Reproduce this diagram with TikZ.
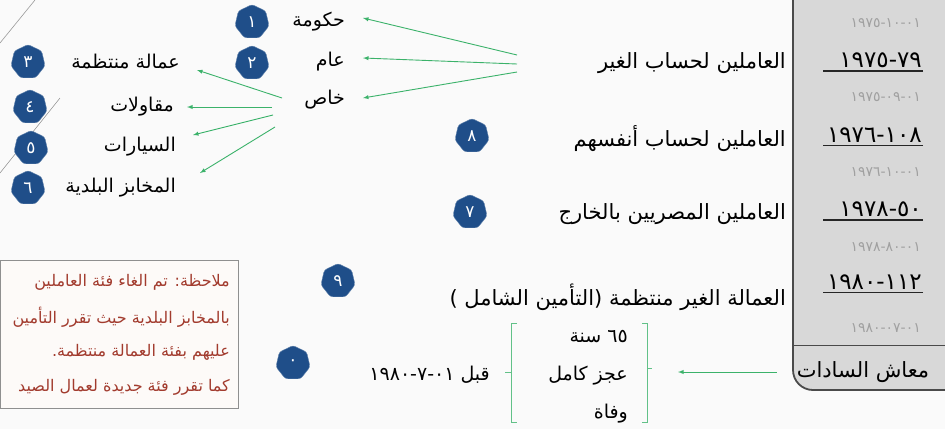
\documentclass[tikz,border=0pt]{standalone}
\usepackage{fontspec}
\usepackage{xcolor}
\usepackage{tikz}
\usetikzlibrary{shapes.geometric, arrows, positioning}
\TeXXeTstate=1
\newfontfamily\arabicfont[Script=Arabic]{DejaVu Sans}
\newcommand{\artext}[1]{\beginR #1\endR}
\newcommand{\numpair}[2]{\mbox{#1}\mbox{-}\mbox{#2}}
\newcommand{\numtriple}[3]{\mbox{#1}\mbox{-}\mbox{#2}\mbox{-}\mbox{#3}}
\definecolor{badgeblue}{HTML}{1F4E89}
\definecolor{arrowgreen}{HTML}{3BB26A}
\definecolor{panelgray}{HTML}{D8D8D8}
\definecolor{paneledge}{HTML}{4A4A4A}
\definecolor{datagray}{HTML}{A0A0A0}
\definecolor{notered}{HTML}{A23B2E}
\definecolor{noteedge}{HTML}{8F8F8F}
\definecolor{notefill}{HTML}{FDFAF8}
\definecolor{bgpaper}{HTML}{FAFAFA}
\definecolor{decogray}{HTML}{9A9A9A}
\tikzstyle{badge} = [regular polygon, regular polygon sides=7, minimum size=35pt, inner sep=0pt, fill=badgeblue, draw=badgeblue!70!white, rounded corners=2.5pt, text=white, font=\arabicfont\fontsize{17}{17}\selectfont]
\tikzstyle{catlabel} = [anchor=east, inner sep=0pt, font=\arabicfont\fontsize{21}{24}\selectfont]
\tikzstyle{sublabel} = [anchor=east, inner sep=0pt, font=\arabicfont\fontsize{19}{22}\selectfont]
\tikzstyle{bignum} = [anchor=east, inner sep=0pt, font=\arabicfont\fontsize{23}{25}\selectfont]
\tikzstyle{smallnum} = [anchor=east, inner sep=0pt, text=datagray, font=\arabicfont\fontsize{14}{16}\selectfont]
\tikzstyle{notetext} = [anchor=east, inner sep=0pt, text=notered, font=\arabicfont\fontsize{16}{19}\selectfont]
\tikzstyle{garrow} = [arrowgreen, line width=0.9pt, ->, >=latex]
\tikzstyle{uline} = [line width=1.6pt, black!85]
\tikzstyle{bracket} = [arrowgreen!80, line width=0.8pt]

\begin{document}
\begin{tikzpicture}[x=1pt, y=-1pt]

% Background
\fill[bgpaper] (0,0) rectangle (945,429);
\useasboundingbox (0,0) rectangle (945,429);
\draw[decogray, line width=0.6pt] (35,0) -- (0,43);
\draw[decogray, line width=0.6pt] (60,98) -- (0,173);

% Right panel
\filldraw[fill=panelgray, draw=paneledge, line width=1.8pt, rounded corners=20pt] (793,-20) -- (793,390) -- (970,390) -- (970,-20) -- cycle;
\draw[paneledge, line width=0.8pt] (793,345) -- (945,345);

% Law numbers and dates
\node (d1) [smallnum] at (921,23) {\numtriple{١٩٧٥}{١٠}{٠١}};
\node (law1) [bignum] at (922,60) {\numpair{١٩٧٥}{٧٩}};
\node (d2) [smallnum] at (921,97) {\numtriple{١٩٧٥}{٠٩}{٠١}};
\node (law2) [bignum] at (922,135) {\numpair{١٩٧٦}{١٠٨}};
\node (d3) [smallnum] at (921,172) {\numtriple{١٩٧٦}{١٠}{٠١}};
\node (law3) [bignum] at (922,209) {\numpair{١٩٧٨}{٥٠}};
\node (d4) [smallnum] at (921,247) {\numtriple{١٩٧٨}{٨٠}{٠١}};
\node (law4) [bignum] at (922,282) {\numpair{١٩٨٠}{١١٢}};
\node (d5) [smallnum] at (921,328) {\numtriple{١٩٨٠}{٠٧}{٠١}};
\node (sadat) [catlabel, anchor=center] at (863,372) {\artext{معاش السادات}};
\foreach \n in {law1, law2, law3, law4}
  \draw[uline] ([yshift=-3pt]\n.south east) ++(1,0) -- ++(-100,0);

% Main categories
\node (ghair) [catlabel] at (786,63) {\artext{العاملين لحساب الغير}};
\node (anfus) [catlabel] at (786,139) {\artext{العاملين لحساب أنفسهم}};
\node (kharij) [catlabel] at (786,214) {\artext{العاملين المصريين بالخارج}};
\node (shamil) [catlabel] at (786,297) {\artext{العمالة الغير منتظمة (التأمين الشامل )}};

% Sectors
\node (hukuma) [sublabel] at (345,22) {\artext{حكومة}};
\node (aam) [sublabel] at (345,62) {\artext{عام}};
\node (khas) [sublabel] at (345,100) {\artext{خاص}};

% Private sector branches
\node (munt) [sublabel] at (180,62) {\artext{عمالة منتظمة}};
\node (muqawalat) [sublabel] at (174,107) {\artext{مقاولات}};
\node (sayyarat) [sublabel] at (176,147) {\artext{السيارات}};
\node (makhabiz) [sublabel] at (176,188) {\artext{المخابز البلدية}};

% Conditions
\node (sana) [sublabel] at (628,337) {\artext{٦٥ سنة}};
\node (ajz) [sublabel] at (628,376) {\artext{عجز كامل}};
\node (wafat) [sublabel] at (628,414) {\artext{وفاة}};
\node (qabl) [sublabel] at (490,375) {\artext{قبل \beginL\numtriple{١٩٨٠}{٧}{٠١}\endL}};
\draw[bracket] (517,323) -- (511,323) -- (511,422) -- (517,422);
\draw[bracket] (511,372) -- (505,372);
\draw[bracket] (642,323) -- (647,323) -- (647,422) -- (642,422);
\draw[bracket] (647,368) -- (652,368);

% Note
\node (note) [draw=noteedge, fill=notefill, line width=0.7pt, minimum width=238pt, minimum height=148pt, inner sep=0pt] at (119,334) {};
\node (n1) [notetext] at (230,282) {\artext{ملاحظة: تم الغاء فئة العاملين}};
\node (n2) [notetext] at (230,317) {\artext{بالمخابز البلدية حيث تقرر التأمين}};
\node (n3) [notetext] at (230,352) {\artext{عليهم بفئة العمالة منتظمة.}};
\node (n4) [notetext] at (230,387) {\artext{كما تقرر فئة جديدة لعمال الصيد}};

% Badges
\node (b1) [badge] at (252,22) {١};
\node (b2) [badge] at (252,63) {٢};
\node (b3) [badge] at (28,62) {٣};
\node (b4) [badge] at (30,107) {٤};
\node (b5) [badge] at (31,148) {٥};
\node (b6) [badge] at (28,188) {٦};
\node (b7) [badge] at (470,212) {٧};
\node (b8) [badge] at (472,136) {٨};
\node (b9) [badge] at (338,281) {٩};
\node (b0) [badge] at (293,363) {٠};

% Arrows
\coordinate (fanA) at (517,55);
\coordinate (fanB) at (517,64);
\coordinate (fanC) at (517,72);
\draw [garrow] (fanA) -- ([xshift=18pt, yshift=4pt]hukuma.east);
\draw [garrow] (fanB) -- ([xshift=18pt, yshift=4pt]aam.east);
\draw [garrow] (fanC) -- ([xshift=18pt, yshift=2pt]khas.east);
\coordinate (subA) at (282,98);
\coordinate (subB) at (272,107);
\coordinate (subC) at (273,115);
\coordinate (subD) at (275,127);
\draw [garrow] (subA) -- ([xshift=17pt, yshift=-8pt]munt.east);
\draw [garrow] (subB) -- ([xshift=13pt]muqawalat.east);
\draw [garrow] (subC) -- ([xshift=17pt, yshift=12pt]sayyarat.east);
\draw [garrow] (subD) -- ([xshift=24pt, yshift=15pt]makhabiz.east);
\draw [garrow] ([xshift=-20pt]sadat.west) -- ([xshift=50pt, yshift=4pt]ajz.east);

\end{tikzpicture}
\end{document}
